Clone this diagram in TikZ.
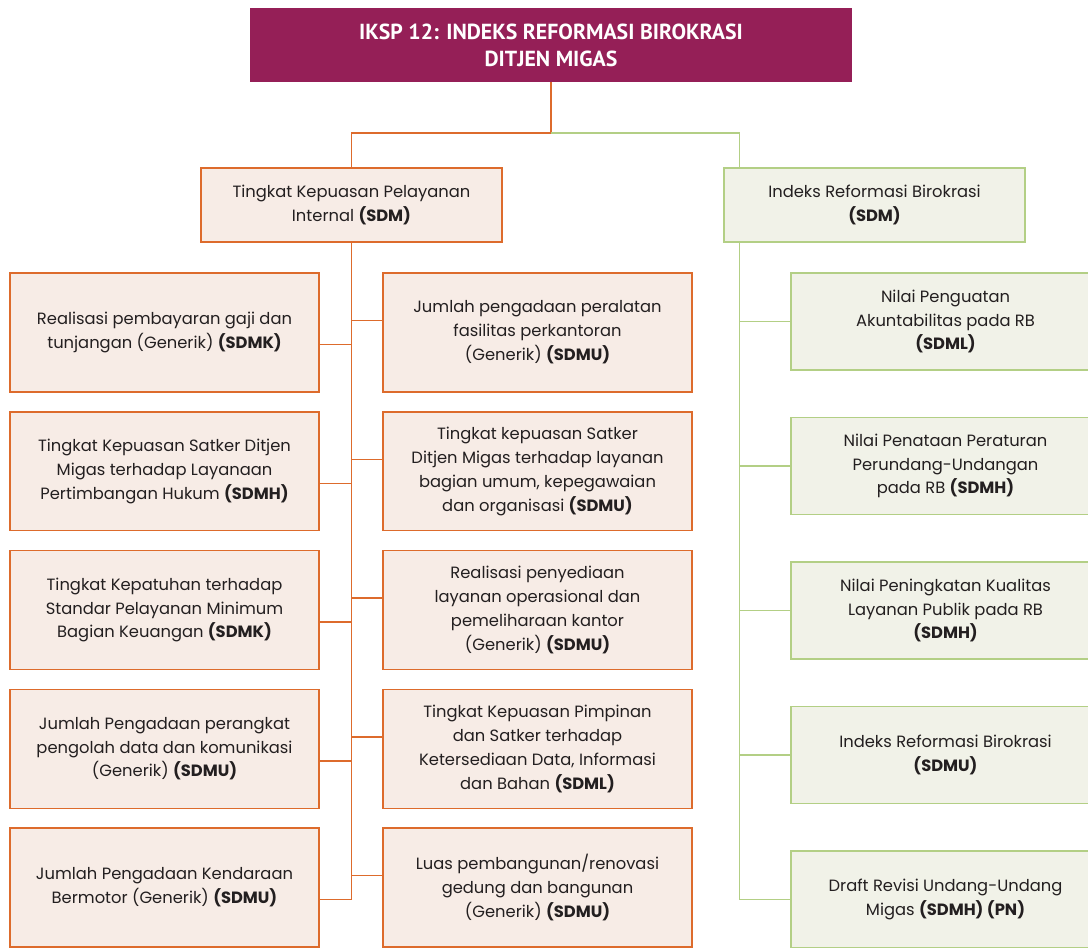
\documentclass[tikz,border=0pt]{standalone}
\usepackage{fontspec}
\setmainfont{Poppins}
\newfontfamily\titlefont{PT Sans}
\usetikzlibrary{calc}
\definecolor{migas}{HTML}{951F57}
\definecolor{sdmline}{HTML}{DD6B2C}
\definecolor{sdmfill}{HTML}{F7ECE6}
\definecolor{rbline}{HTML}{B3CF85}
\definecolor{rbfill}{HTML}{F1F2E8}
\definecolor{ink}{HTML}{231F20}
\tikzset{
  topbox/.style={fill=migas, text=white, align=center, minimum width=12.04cm, minimum height=1.48cm,
    inner sep=0pt, font=\titlefont\bfseries\fontsize{12.4}{15.3}\selectfont},
  sdmbox/.style={draw=sdmline, fill=sdmfill, line width=0.85pt, text=ink, align=center,
    minimum width=6.18cm, minimum height=2.38cm, inner sep=0pt, font=\fontsize{9.3}{13.6}\selectfont},
  rbbox/.style={sdmbox, draw=rbline, fill=rbfill, minimum height=1.94cm},
  sdmwire/.style={draw=sdmline, line width=0.85pt},
  rbwire/.style={draw=rbline, line width=0.85pt}
}
\begin{document}
\begin{tikzpicture}[x=0.02cm, y=-0.02cm]
  \useasboundingbox (0,0) rectangle (1088,947);
  \clip (0,0) rectangle (1088,947);
  \node[topbox] (iksp) at (551,45) {IKSP 12: INDEKS REFORMASI BIROKRASI\\DITJEN MIGAS};
  \node[sdmbox, minimum width=6.02cm, minimum height=1.48cm] (sdm) at (351.5,205) {Tingkat Kepuasan Pelayanan\\Internal \textbf{(SDM)}};
  \node[rbbox, minimum width=6.02cm, minimum height=1.48cm] (rb) at (874.5,205) {Indeks Reformasi Birokrasi\\\textbf{(SDM)}};
  \coordinate (forky) at (0,133);
  \coordinate (fork) at (iksp.south |- forky);
  \draw[sdmwire] (iksp.south) -- (fork) -| (sdm.north);
  \draw[rbwire] (fork) -| ([xshift=0.32cm]rb.north west);
  \foreach \i/\t in {0/{Realisasi pembayaran gaji dan\\tunjangan (Generik) \textbf{(SDMK)}},
                     1/{Tingkat Kepuasan Satker Ditjen\\Migas terhadap Layanaan\\Pertimbangan Hukum \textbf{(SDMH)}},
                     2/{Tingkat Kepatuhan terhadap\\Standar Pelayanan Minimum\\Bagian Keuangan \textbf{(SDMK)}},
                     3/{Jumlah Pengadaan perangkat\\pengolah data dan komunikasi\\(Generik) \textbf{(SDMU)}},
                     4/{Jumlah Pengadaan Kendaraan\\Bermotor (Generik) \textbf{(SDMU)}}}
    { \node[sdmbox] (kiri\i) at (164.5,{332.5+138.75*\i}) {\t};
      \draw[sdmwire] (sdm.south) |- ([yshift=-0.24cm]kiri\i.east); }
  \foreach \i/\t in {0/{Jumlah pengadaan peralatan\\fasilitas perkantoran\\(Generik) \textbf{(SDMU)}},
                     1/{Tingkat kepuasan Satker\\Ditjen Migas terhadap layanan\\bagian umum, kepegawaian\\dan organisasi \textbf{(SDMU)}},
                     2/{Realisasi penyediaan\\layanan operasional dan\\pemeliharaan kantor\\(Generik) \textbf{(SDMU)}},
                     3/{Tingkat Kepuasan Pimpinan\\dan Satker terhadap\\Ketersediaan Data, Informasi\\dan Bahan \textbf{(SDML)}},
                     4/{Luas pembangunan/renovasi\\gedung dan bangunan\\(Generik) \textbf{(SDMU)}}}
    { \node[sdmbox] (tengah\i) at (537.5,{332.5+138.75*\i}) {\t};
      \draw[sdmwire] (sdm.south) |- ([yshift=0.24cm]tengah\i.west); }
  \foreach \i/\t in {0/{Nilai Penguatan\\Akuntabilitas pada RB\\\textbf{(SDML)}},
                     1/{Nilai Penataan Peraturan\\Perundang-Undangan\\pada RB \textbf{(SDMH)}},
                     2/{Nilai Peningkatan Kualitas\\Layanan Publik pada RB\\\textbf{(SDMH)}},
                     3/{Indeks Reformasi Birokrasi\\\textbf{(SDMU)}},
                     4/{Draft Revisi Undang-Undang\\Migas \textbf{(SDMH) (PN)}}}
    { \node[rbbox] (kanan\i) at (945.5,{321.5+144.5*\i}) {\t};
      \draw[rbwire] ([xshift=0.32cm]rb.south west) |- (kanan\i.west); }
\end{tikzpicture}
\end{document}
